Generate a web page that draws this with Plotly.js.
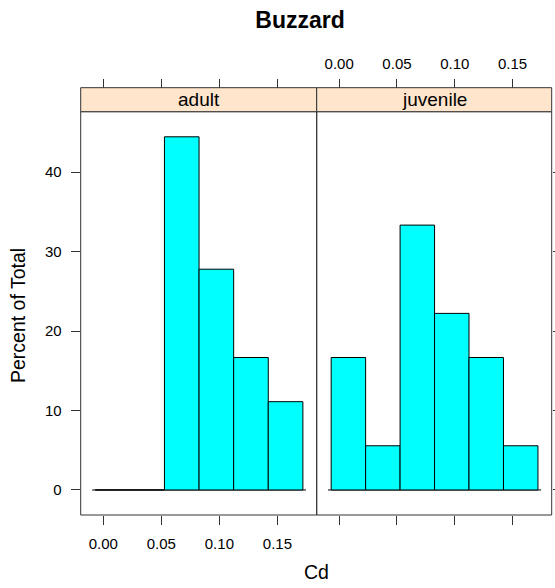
<!DOCTYPE html>
<html><head><meta charset="utf-8">
<script src="https://cdn.plot.ly/plotly-3.0.1.min.js"></script>
<style>body{margin:0;background:#fff}</style></head><body>
<div id="chart" style="width:555px;height:588px"></div>
<script>
// ---- data ----
const panels = ["adult", "juvenile"];
const binEdges = [-0.0069, 0.0229, 0.0527, 0.0825, 0.1123, 0.1421, 0.1719];
const adultPct = [0, 0, 44.44, 27.78, 16.67, 11.11];
const juvenilePct = [16.67, 5.56, 33.33, 22.22, 16.67, 5.56];
const xTickVals = [0, 0.05, 0.10, 0.15];
const xTickText = ["0.00", "0.05", "0.10", "0.15"];
const yTickVals = [0, 10, 20, 30, 40];
const yTickText = ["0", "10", "20", "30", "40"];

// ---- layout geometry (pixels) ----
const W = 555, H = 588;
const px = v => v / W, py = v => 1 - v / H;
const panelL = [80.7, 316.7], panelR = [316.7, 551.7];
const panelTop = 111.7, panelBot = 515, stripTop = 87.7;
const xRange = [-0.0194, 0.1838];
const yRange = [-3.15, 47.6];
const FONT = "Liberation Sans, Arial, sans-serif";
const LINE = "#333333";

const mids = binEdges.slice(0, -1).map((e, i) => (e + binEdges[i + 1]) / 2);
const widths = binEdges.slice(0, -1).map((e, i) => binEdges[i + 1] - e);

function barTrace(vals, xa) {
  return {
    type: "bar", x: mids, y: vals, width: widths, xaxis: xa, yaxis: "y",
    marker: { color: "#00FFFF", line: { color: "#000000", width: 1 } },
    hoverinfo: "x+y", showlegend: false
  };
}
const dummy = (xa, ya) => ({ type: "scatter", x: [null], y: [null], xaxis: xa, yaxis: ya, showlegend: false, hoverinfo: "skip" });

const data = [
  barTrace(adultPct, "x"),
  barTrace(juvenilePct, "x2"),
  dummy("x3", "y"),
  dummy("x4", "y"),
  dummy("x2", "y2")
];

const tickCommon = {
  ticks: "outside", ticklen: 9, tickwidth: 1, tickcolor: LINE,
  showgrid: false, zeroline: false, showline: false, fixedrange: true,
  tickfont: { family: FONT, size: 15, color: "#000" }
};
const xBase = Object.assign({}, tickCommon, { range: xRange, tickvals: xTickVals, ticktext: xTickText, automargin: false });

const shapes = [];
const annotations = [];
const pct = [adultPct, juvenilePct];
panels.forEach((p, i) => {
  // panel border
  shapes.push({ type: "rect", xref: "paper", yref: "paper", x0: px(panelL[i]), x1: px(panelR[i]), y0: py(panelBot), y1: py(panelTop), line: { color: LINE, width: 1 }, layer: "above" });
  // strip
  shapes.push({ type: "rect", xref: "paper", yref: "paper", x0: px(panelL[i]), x1: px(panelR[i]), y0: py(panelTop), y1: py(stripTop), fillcolor: "#FFE5CC", line: { color: LINE, width: 1 }, layer: "above" });
  annotations.push({ text: p, xref: "paper", yref: "paper", x: px((panelL[i] + panelR[i]) / 2), y: py((panelTop + stripTop) / 2), xanchor: "center", yanchor: "middle", showarrow: false, font: { family: FONT, size: 19, color: "#000" } });
  // histogram baseline
  const xr = i === 0 ? "x" : "x2";
  shapes.push({ type: "line", xref: xr, yref: "y", x0: binEdges[0] - 0.0027, x1: binEdges[binEdges.length - 1] + 0.0027, y0: 0, y1: 0, line: { color: "#000", width: 1 }, layer: "below" });
});

annotations.push({ text: "Cd", xref: "paper", yref: "paper", x: px(316), y: py(572), xanchor: "center", yanchor: "middle", showarrow: false, font: { family: FONT, size: 19.5, color: "#000" } });
annotations.push({ text: "Percent of Total", xref: "paper", yref: "paper", x: px(18), y: py(316), xanchor: "center", yanchor: "middle", textangle: -90, showarrow: false, font: { family: FONT, size: 19.5, color: "#000" } });

const layout = {
  width: W, height: H, autosize: false,
  margin: { l: 0, r: 0, t: 0, b: 0, pad: 0 },
  paper_bgcolor: "#fff", plot_bgcolor: "rgba(0,0,0,0)",
  title: { text: "<b>Buzzard</b>", x: px(300), xref: "paper", xanchor: "center", y: py(20), yref: "paper", yanchor: "middle", font: { family: FONT, size: 23, color: "#000" } },
  bargap: 0, barmode: "overlay",
  xaxis: Object.assign({}, xBase, { domain: [px(panelL[0]), px(panelR[0])], anchor: "y", side: "bottom", ticklabelstandoff: 6 }),
  xaxis2: Object.assign({}, xBase, { domain: [px(panelL[1]), px(panelR[1])], anchor: "y", side: "bottom", showticklabels: false }),
  xaxis3: Object.assign({}, xBase, { overlaying: "x", anchor: "free", position: py(stripTop), side: "top", showticklabels: false }),
  xaxis4: Object.assign({}, xBase, { overlaying: "x2", anchor: "free", position: py(stripTop), side: "top", ticklabelstandoff: 4 }),
  yaxis: Object.assign({}, tickCommon, { domain: [py(panelBot), py(panelTop)], range: yRange, tickvals: yTickVals, ticktext: yTickText, anchor: "x", side: "left", automargin: false, ticklabelstandoff: 6 }),
  yaxis2: Object.assign({}, tickCommon, { overlaying: "y", range: yRange, tickvals: yTickVals, anchor: "free", position: px(panelR[1]), side: "right", showticklabels: false, automargin: false }),
  shapes: shapes, annotations: annotations
};

Plotly.newPlot("chart", data, layout, { staticPlot: true, displayModeBar: false });
</script>
</body></html>
